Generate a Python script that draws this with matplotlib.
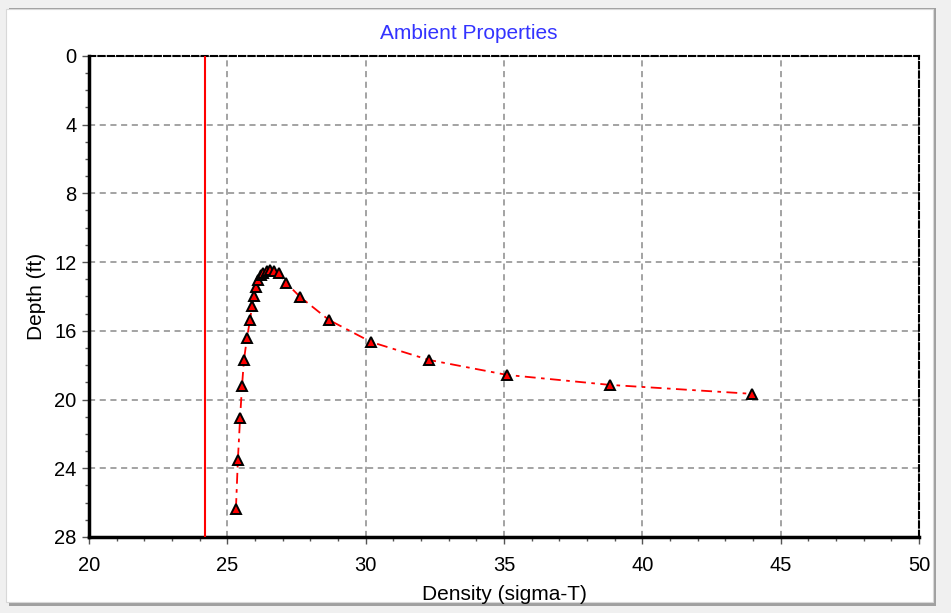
import numpy as np
import matplotlib.pyplot as plt
from matplotlib.patches import Rectangle
from matplotlib.ticker import MultipleLocator

plt.rcParams['font.family'] = ['Liberation Sans', 'DejaVu Sans']

# ambient density profile (sigma-T vs depth in ft)
density = [25.31, 25.38, 25.46, 25.53, 25.60, 25.71, 25.82, 25.89, 25.96, 26.04,
           26.11, 26.20, 26.30, 26.42, 26.55, 26.68, 26.85, 27.12, 27.63, 28.67,
           30.19, 32.29, 35.11, 38.83, 43.96]
depth = [26.37, 23.52, 21.07, 19.21, 17.70, 16.41, 15.37, 14.55, 13.97, 13.45,
         13.04, 12.78, 12.62, 12.52, 12.47, 12.50, 12.62, 13.21, 14.03, 15.37,
         16.65, 17.70, 18.57, 19.15, 19.67]
ref_density = 24.2

fig = plt.figure(figsize=(9.51, 6.13), dpi=100)
fig.patch.set_facecolor('#f0f0f0')
# white panel with shadow
fig.patches.append(Rectangle((0.009, 0.012), 0.975, 0.975, transform=fig.transFigure,
                             facecolor='#a0a0a0', edgecolor='none', zorder=-10))
fig.patches.append(Rectangle((0.006, 0.018), 0.975, 0.968, transform=fig.transFigure,
                             facecolor='white', edgecolor='#d8d8d8', lw=0.8, zorder=-9))

ax = fig.add_axes([0.0936, 0.124, 0.8728, 0.785])
ax.set_facecolor('none')
ax.set_xlim(20, 50)
ax.set_ylim(28, 0)

ax.axvline(ref_density, color='red', lw=1.5, zorder=3)
ax.plot(density, depth, color='red', lw=1.3, linestyle=(0, (6, 3, 2, 3)), zorder=4)
ax.plot(density, depth, linestyle='none', marker='^', markersize=7.5,
        markerfacecolor='red', markeredgecolor='black', markeredgewidth=1.4, zorder=5)

ax.xaxis.set_major_locator(MultipleLocator(5))
ax.xaxis.set_minor_locator(MultipleLocator(1))
ax.yaxis.set_major_locator(MultipleLocator(4))
ax.yaxis.set_minor_locator(MultipleLocator(1))
ax.grid(which='major', color='#8a8a8a', linestyle=(0, (4, 3)), lw=1.1)
ax.tick_params(which='major', length=5, width=1, labelsize=14.5, color='#555555', pad=4)
ax.tick_params(axis='x', which='major', pad=9)
ax.tick_params(which='minor', length=3, width=1, color='#555555')

for side in ['left', 'bottom']:
    ax.spines[side].set_linewidth(2.5)
for side in ['top', 'right']:
    ax.spines[side].set_linewidth(1.5)
    ax.spines[side].set_linestyle((0, (3, 1.5)))

fig.text(0.493, 0.945, 'Ambient Properties', color='#3333ff', fontsize=15,
         ha='center', va='center')
ax.set_xlabel('Density (sigma-T)', fontsize=15, labelpad=7)
ax.set_ylabel('Depth (ft)', fontsize=15, labelpad=6)

fig.savefig('out.png', dpi=100, facecolor=fig.get_facecolor())
